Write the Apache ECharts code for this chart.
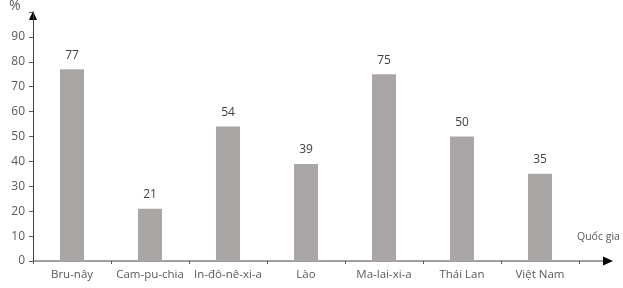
<!DOCTYPE html>
<html><head><meta charset="utf-8">
<script src="https://cdn.jsdelivr.net/npm/echarts@6/dist/echarts.min.js"></script>
<style>html,body{margin:0;padding:0;background:#fff}#c{width:623px;height:288px}</style>
</head><body><div id="c"></div>
<script>
const categories = ['Bru-nây','Cam-pu-chia','In-đô-nê-xi-a','Lào','Ma-lai-xi-a','Thái Lan','Việt Nam'];
const values = [77, 21, 54, 39, 75, 50, 35];
const yTicks = [0, 10, 20, 30, 40, 50, 60, 70, 80, 90];
const yUnit = '%';
const xName = 'Quốc gia';

const G = {left: 33, right: 44, top: 12, bottom: 27};
const FONT = 'Open Sans';
const chart = echarts.init(document.getElementById('c'));
chart.setOption({
  animation: false,
  grid: G,
  xAxis: {
    type: 'category', data: categories, boundaryGap: true,
    axisLine: {show: false},
    axisTick: {show: true, length: 3, lineStyle: {color: '#595959'}},
    axisLabel: {interval: 0, color: '#595959', fontFamily: FONT, fontSize: 11.5, margin: 8}
  },
  yAxis: {
    type: 'value', min: 0, max: 100, interval: 10,
    splitLine: {show: false},
    axisLine: {show: true, lineStyle: {color: '#404040', width: 1}},
    axisTick: {show: true, length: 4, lineStyle: {color: '#595959'}},
    axisLabel: {color: '#595959', fontFamily: FONT, fontSize: 12, margin: 8,
      formatter: v => yTicks.indexOf(v) >= 0 ? String(v) : ''}
  },
  series: [{
    type: 'bar', data: values, barWidth: 24,
    itemStyle: {color: '#aaa6a5'},
    label: {show: true, position: 'top', distance: 8, color: '#404040', fontFamily: FONT, fontSize: 12}
  }],
  graphic: [
    {type: 'polygon', shape: {points: [[G.left - 4, G.top + 8], [G.left, G.top - 1], [G.left + 4, G.top + 8]]}, style: {fill: '#000'}},
    {type: 'line', shape: {x1: G.left, y1: 288 - G.bottom, x2: 604, y2: 288 - G.bottom}, style: {stroke: '#404040', lineWidth: 1}},
    {type: 'polygon', shape: {points: [[603, 288 - G.bottom - 4.5], [613, 288 - G.bottom], [603, 288 - G.bottom + 4.5]]}, style: {fill: '#000'}},
    {type: 'text', left: 9, top: -1, style: {text: yUnit, fill: '#595959', font: '14px "Open Sans"'}},
    {type: 'text', left: 577, top: 232, style: {text: xName, fill: '#595959', font: '10.5px "Open Sans"'}}
  ]
});
</script></body></html>
